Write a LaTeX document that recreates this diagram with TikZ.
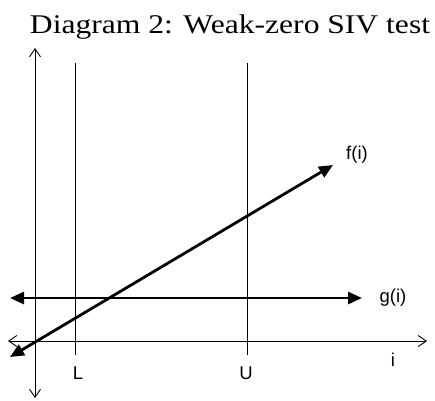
\documentclass[tikz,border=0pt]{standalone}
\usepackage{fontspec}
\setmainfont{Liberation Serif}
\setsansfont{Liberation Sans}
\newfontfamily\titlefont[FakeStretch=1.17]{Liberation Serif}
\usepackage{tikz}
\usetikzlibrary{arrows.meta,positioning}
\tikzset{
  axisline/.style={line width=0.9pt, black},
  axisarr/.style={{Straight Barb[length=8pt,width=11pt]}-{Straight Barb[length=8pt,width=11pt]}, line width=0.9pt},
  boundline/.style={line width=0.9pt, black},
  funcarr/.style={{Triangle[length=14pt,width=12pt]}-{Triangle[length=14pt,width=12pt]}, line width=2.8pt},
  lbl/.style={font=\sffamily\fontsize{18.5}{21}\selectfont, inner sep=0pt}
}

\begin{document}
\begin{tikzpicture}[x=1pt, y=-1pt]
\useasboundingbox (0,0) rectangle (435,400);
% title
\node[font=\titlefont\fontsize{27}{31}\selectfont, inner sep=0pt] (title) at (230,27) {Diagram 2: Weak-zero SIV test};
% axes
\coordinate (ytop) at (35,48);
\coordinate (ybot) at (35,398);
\coordinate (xleft) at (8,341);
\coordinate (xright) at (427,341);
\draw[axisarr] (ybot)--(ytop);
\draw[axisarr] (xleft)--(xright);
% bounds L and U
\coordinate (Ltop) at (75,63);
\coordinate (Lbot) at (75,355);
\coordinate (Utop) at (247,63);
\coordinate (Ubot) at (247,355);
\draw[boundline] (Ltop)--(Lbot);
\draw[boundline] (Utop)--(Ubot);
% functions
\coordinate (fstart) at (10,357);
\coordinate (fend) at (333,165);
\coordinate (gstart) at (10,298);
\coordinate (gend) at (362,298);
\draw[funcarr] (fstart)--(fend);
\draw[funcarr] (gstart)--(gend);
% labels
\node[lbl] (flbl) at (357,155) {f(i)};
\node[lbl] (glbl) at (393,298) {g(i)};
\node[lbl] (ilbl) at (393,360) {i};
\node[lbl] (Llbl) at (78,373) {L};
\node[lbl] (Ulbl) at (246,373) {U};
\end{tikzpicture}
\end{document}
